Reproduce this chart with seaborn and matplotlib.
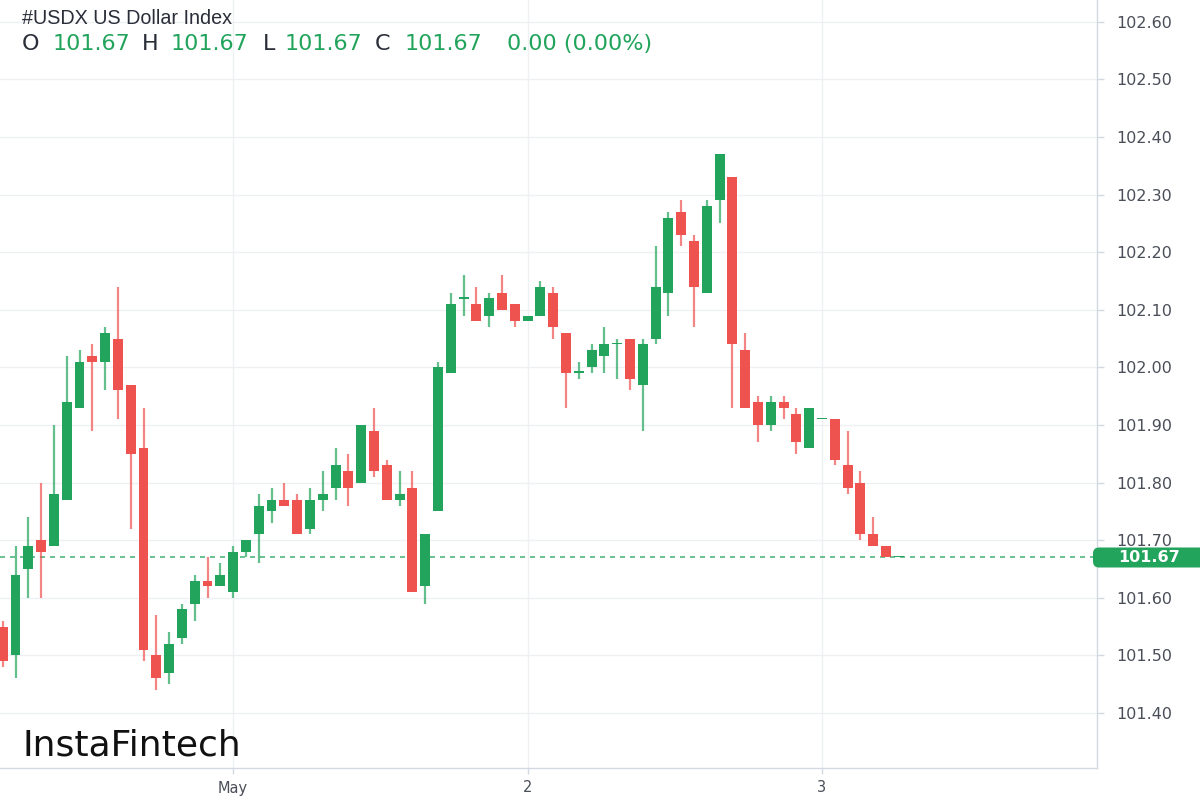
import numpy as np
import matplotlib
matplotlib.use("Agg")
import matplotlib.pyplot as plt
from matplotlib.patches import FancyBboxPatch
import seaborn as sns

# ---------------- data (hourly candles, USDX) ----------------
opens = [101.55, 101.50, 101.65, 101.70, 101.69, 101.77, 101.93, 102.02, 102.01, 102.05,
         101.97, 101.86, 101.50, 101.47, 101.53, 101.59, 101.63, 101.62, 101.61, 101.68,
         101.71, 101.75, 101.77, 101.77, 101.72, 101.77, 101.79, 101.82, 101.80, 101.89,
         101.83, 101.77, 101.79, 101.62, 101.75, 101.99, 102.118, 102.11, 102.09, 102.13,
         102.11, 102.08, 102.09, 102.13, 102.06, 101.99, 102.00, 102.02, 102.04, 102.05,
         101.97, 102.05, 102.13, 102.27, 102.22, 102.13, 102.29, 102.33, 102.03, 101.94,
         101.90, 101.94, 101.92, 101.86, 101.91, 101.91, 101.83, 101.80, 101.71, 101.69,
         101.67]
highs = [101.56, 101.69, 101.74, 101.80, 101.90, 102.02, 102.03, 102.04, 102.07, 102.14,
         101.97, 101.93, 101.57, 101.54, 101.59, 101.64, 101.67, 101.66, 101.69, 101.70,
         101.78, 101.79, 101.80, 101.78, 101.79, 101.82, 101.86, 101.85, 101.90, 101.93,
         101.84, 101.82, 101.82, 101.71, 102.01, 102.13, 102.16, 102.14, 102.13, 102.16,
         102.11, 102.09, 102.15, 102.14, 102.06, 102.01, 102.04, 102.07, 102.05, 102.05,
         102.05, 102.21, 102.27, 102.29, 102.23, 102.29, 102.37, 102.33, 102.06, 101.95,
         101.95, 101.95, 101.93, 101.93, 101.91, 101.91, 101.89, 101.82, 101.74, 101.69,
         101.67]
lows = [101.48, 101.46, 101.60, 101.60, 101.69, 101.77, 101.93, 101.89, 101.96, 101.91,
        101.72, 101.49, 101.44, 101.45, 101.52, 101.56, 101.60, 101.62, 101.60, 101.67,
        101.66, 101.73, 101.76, 101.71, 101.71, 101.75, 101.77, 101.76, 101.80, 101.81,
        101.77, 101.76, 101.61, 101.59, 101.75, 101.99, 102.09, 102.08, 102.07, 102.10,
        102.07, 102.08, 102.09, 102.05, 101.93, 101.98, 101.99, 101.99, 101.98, 101.96,
        101.89, 102.04, 102.09, 102.21, 102.07, 102.13, 102.25, 101.93, 101.93, 101.87,
        101.89, 101.91, 101.85, 101.86, 101.91, 101.83, 101.78, 101.70, 101.69, 101.67,
        101.67]
closes = [101.49, 101.64, 101.69, 101.68, 101.78, 101.94, 102.01, 102.01, 102.06, 101.96,
          101.85, 101.51, 101.46, 101.52, 101.58, 101.63, 101.62, 101.64, 101.68, 101.70,
          101.76, 101.77, 101.76, 101.71, 101.77, 101.78, 101.83, 101.79, 101.90, 101.82,
          101.77, 101.78, 101.61, 101.71, 102.00, 102.11, 102.123, 102.08, 102.12, 102.10,
          102.08, 102.09, 102.14, 102.07, 101.99, 101.993, 102.03, 102.04, 102.042, 101.98,
          102.04, 102.14, 102.26, 102.23, 102.14, 102.28, 102.37, 102.04, 101.93, 101.90,
          101.94, 101.93, 101.87, 101.93, 101.91, 101.84, 101.79, 101.71, 101.69, 101.67,
          101.67]

x_labels = ["May", "2", "3"]
session_len = 23          # hourly candles per trading day
first_session_idx = 18    # candle that opens "May"
y_ticks = [101.40, 101.50, 101.60, 101.70, 101.80, 101.90, 102.00, 102.10, 102.20,
           102.30, 102.40, 102.50, 102.60]
title = "#USDX US Dollar Index"

# ---------------- style ----------------
GREEN = "#22a45c"
RED = "#ef5350"
GRID = "#eef0f4"
SPINE = "#d3d9e3"
TXT = "#4a4e58"
DARK = "#2a2e39"

sns.set_theme(style="white")
plt.rcParams["font.family"] = ["DejaVu Sans"]

o = np.array(opens); h = np.array(highs); l = np.array(lows); c = np.array(closes)
idx = np.arange(len(o))
up = c >= o
colors = np.where(up, GREEN, RED)

fig = plt.figure(figsize=(12, 8), dpi=100)
ax = fig.add_axes([0, 32 / 800, 1097 / 1200, 768 / 800])

# grid
for yt in y_ticks:
    ax.axhline(yt, color=GRID, lw=1.0, zorder=0)
xt = [first_session_idx + session_len * k for k in range(len(x_labels))]
for xv in xt:
    ax.axvline(xv, color=GRID, lw=1.0, zorder=0)

# wicks and bodies
ax.vlines(idx, l, h, colors=colors, lw=1.6, alpha=0.7, zorder=2)
body_low = np.minimum(o, c)
body_h = np.maximum(np.abs(c - o), 0.0022)
ax.bar(idx, body_h, bottom=body_low, width=0.78, color=colors, edgecolor="none", zorder=3)

# last price line
last = closes[-1]
ax.axhline(last, color=GREEN, lw=1.2, ls=(0, (3, 3)), alpha=0.8, zorder=1)

ax.set_xlim(-0.211, 85.49)
ax.set_ylim(101.3045, 102.638)

ax.yaxis.tick_right()
ax.set_yticks(y_ticks)
ax.set_yticklabels([f"{v:.2f}" for v in y_ticks])
ax.set_xticks(xt)
ax.set_xticklabels(x_labels)
ax.tick_params(axis="y", which="both", right=True, left=False, length=5, width=1,
               color=SPINE, pad=9, labelsize=11.5, labelcolor=TXT)
ax.tick_params(axis="x", which="both", bottom=True, length=4, width=1,
               color=SPINE, pad=5, labelsize=10.5, labelcolor=TXT)
for s in ["left", "top"]:
    ax.spines[s].set_visible(False)
for s in ["right", "bottom"]:
    ax.spines[s].set_color(SPINE)
    ax.spines[s].set_linewidth(1.0)
ax.set_facecolor("white")
ax.set_xlabel("")
ax.set_ylabel("")

# header
fig.text(22 / 1200, 1 - 18 / 800, title, fontsize=14.2, color=DARK,
         family=["Liberation Sans", "DejaVu Sans"], va="center", ha="left")
vals = f"{last:.2f}"
pieces = [("O", 22, DARK), (vals, 53, GREEN), ("H", 142, DARK), (vals, 171, GREEN),
          ("L", 263, DARK), (vals, 285, GREEN), ("C", 375, DARK), (vals, 405, GREEN),
          ("0.00 (0.00%)", 507, GREEN)]
for txt, px, col in pieces:
    fig.text(px / 1200, 1 - 44 / 800, txt, fontsize=16, color=col, va="center", ha="left")

# watermark
fig.text(22 / 1200, 1 - 746 / 800, "InstaFintech", fontsize=26, color="#111111",
         va="center", ha="left", family=["DejaVu Sans"])

# price label on the axis
ypix = ax.transData.transform((0, last))[1]
box = FancyBboxPatch((1093, ypix - 10), 120, 20, boxstyle="round,pad=0,rounding_size=6",
                     transform=None, fc=GREEN, ec="none", clip_on=False, zorder=10)
fig.add_artist(box)
fig.text(1149 / 1200, ypix / 800, vals, fontsize=11.5, color="white", fontweight="bold",
         va="center", ha="center", zorder=11)

fig.savefig("out.png", dpi=100, facecolor="white")
